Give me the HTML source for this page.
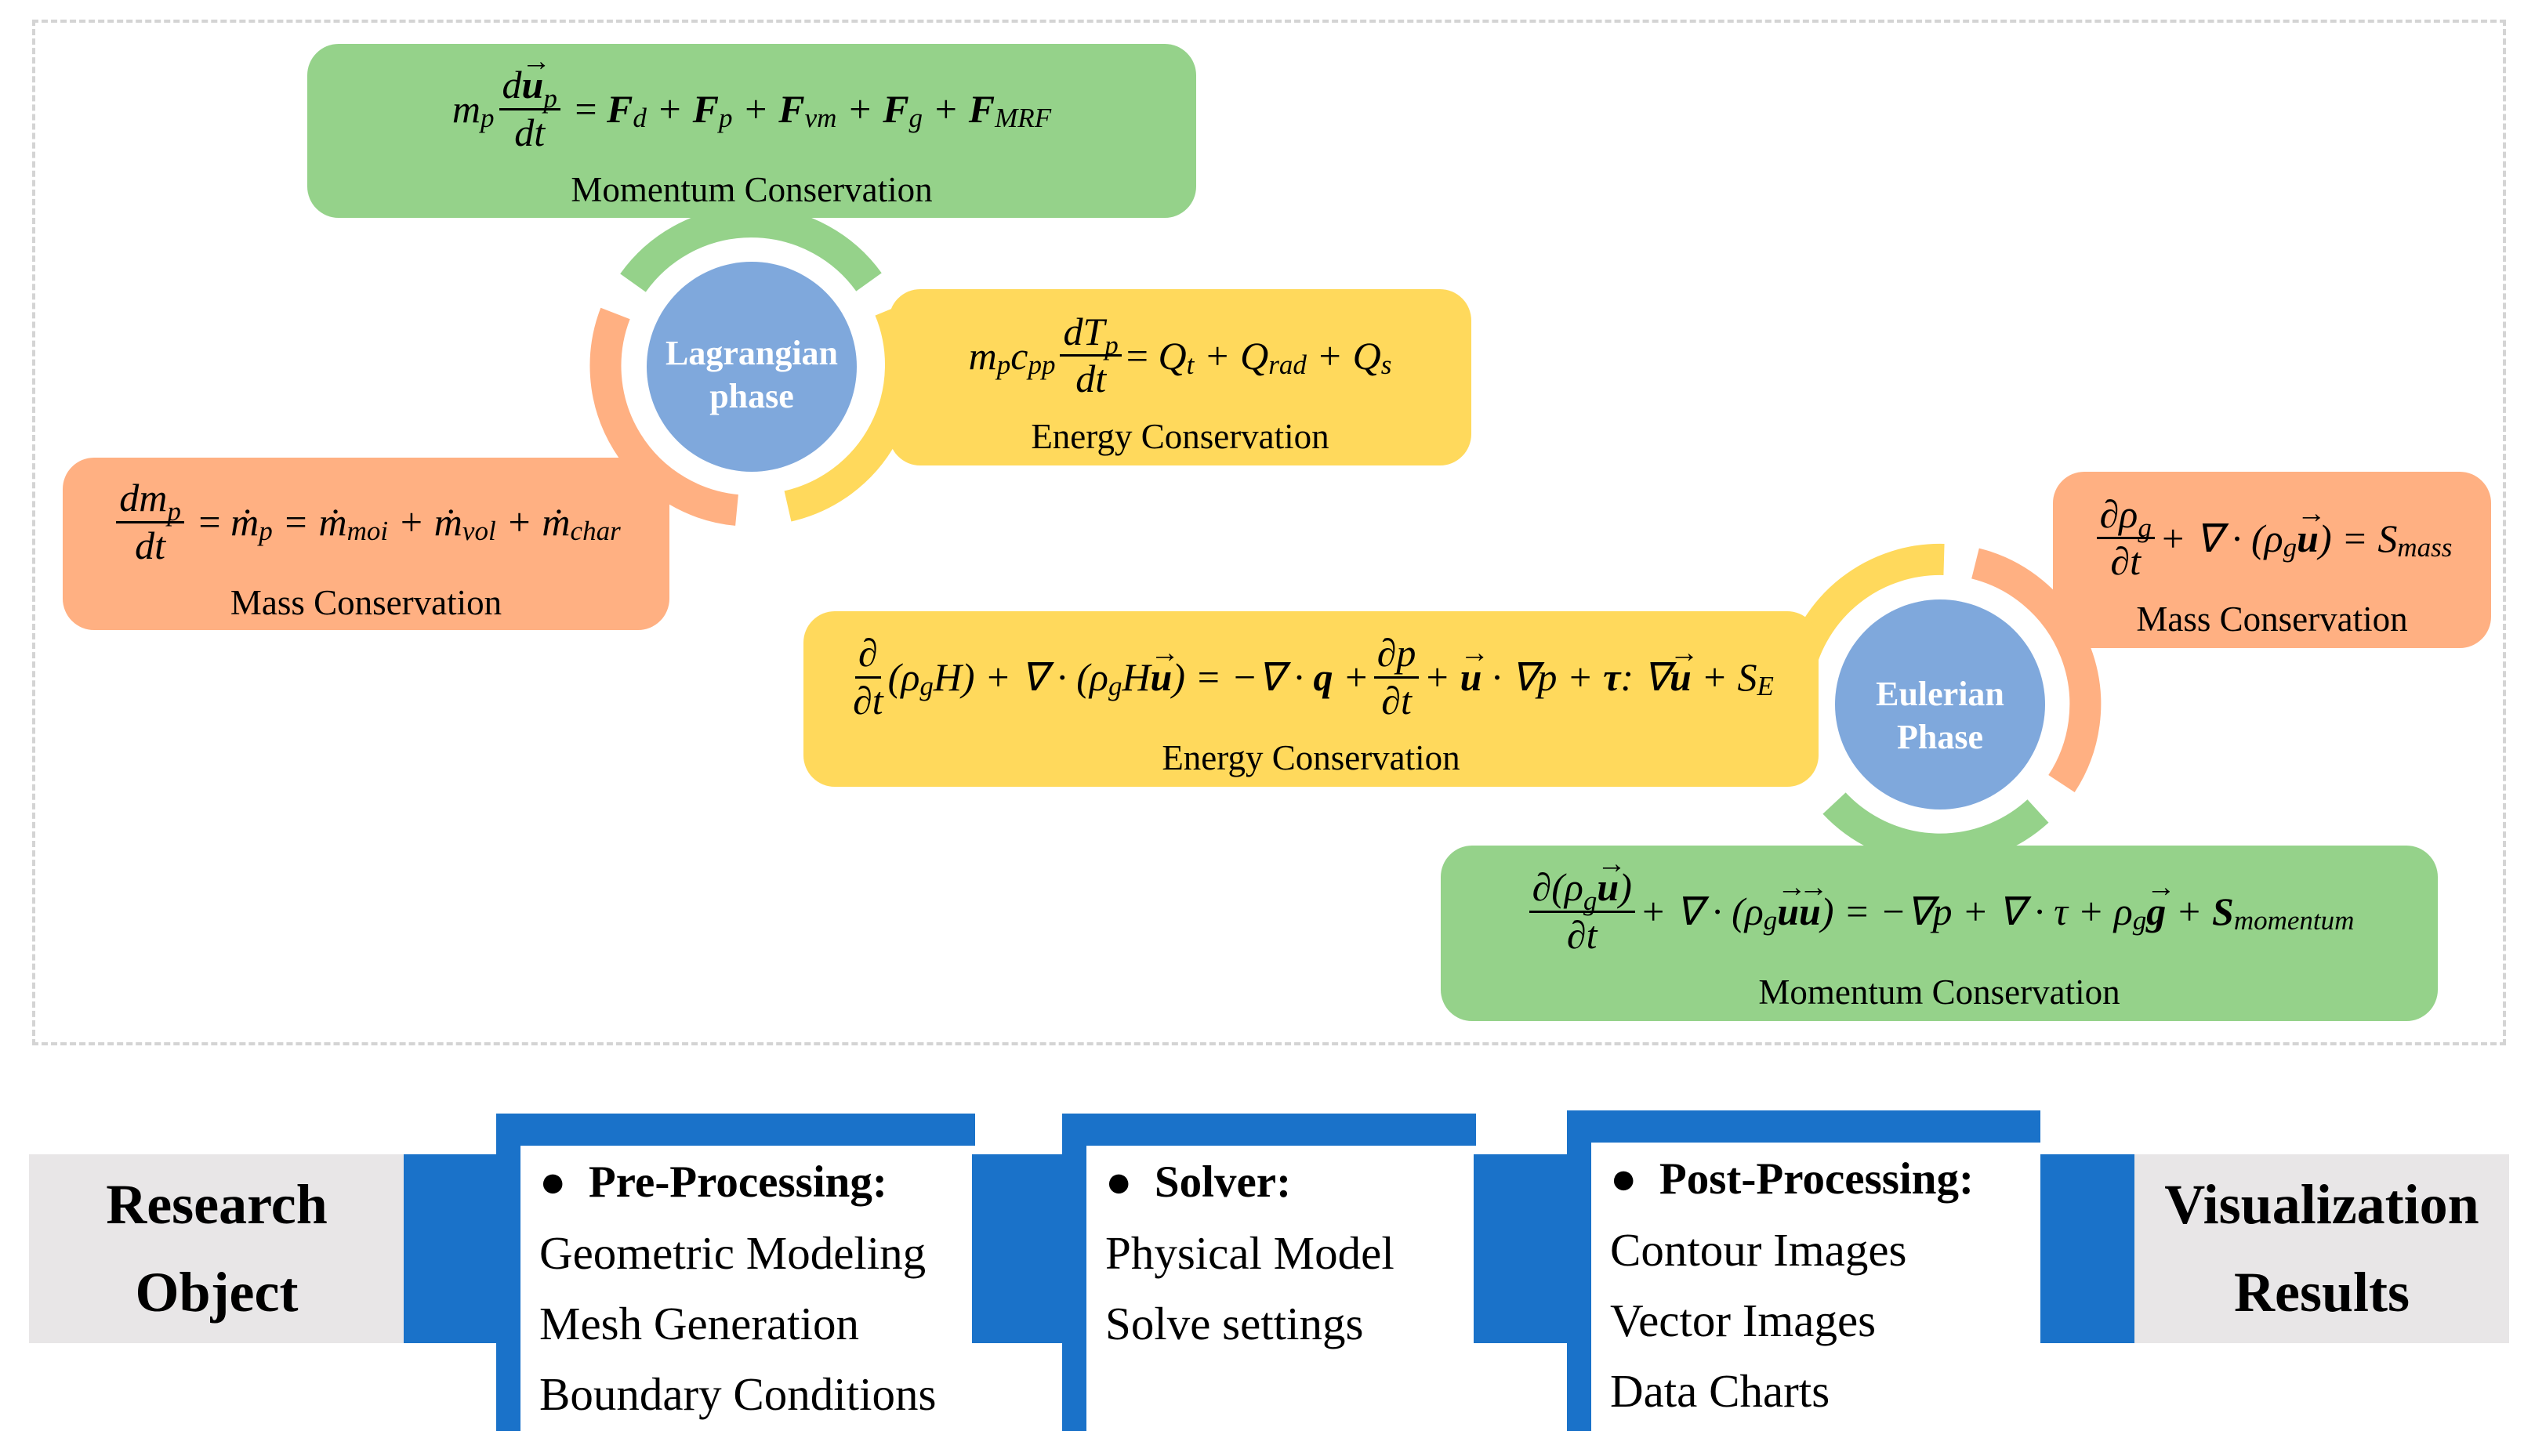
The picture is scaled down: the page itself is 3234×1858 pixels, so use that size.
<!DOCTYPE html>
<html><head><meta charset="utf-8"><style>
*{margin:0;padding:0;box-sizing:border-box}
body{width:3234px;height:1858px;background:#fff;position:relative;overflow:hidden;font-family:"Liberation Serif","Times New Roman","DejaVu Serif",serif;color:#000}
.a{position:absolute}
.box{position:absolute;border-radius:40px;display:flex;flex-direction:column;align-items:center;justify-content:center;font-family:"Liberation Serif",serif;padding-top:14px}
.eq{font-size:50px;font-style:italic;white-space:nowrap;display:flex;align-items:center;font-family:"Liberation Serif",serif}
.eq b{font-style:italic}
.lab{font-size:45px;margin-top:18px;font-family:"Liberation Serif",serif}
.fr{display:inline-flex;flex-direction:column;align-items:center;vertical-align:middle;margin:0 6px;line-height:1.15}
.fr>span:first-child{border-bottom:3px solid #000;padding:0 4px}
.r{font-style:normal}
.s{font-size:0.7em;position:relative;top:0.35em}
.v{position:relative;display:inline-block;font-weight:bold}
.v::before{content:"\2192";position:absolute;top:-0.62em;left:0;width:100%;text-align:center;font-size:0.75em;font-style:normal;font-weight:bold}
.g{background:#95d28a}.y{background:#ffd95c}.o{background:#ffb082}
.blue{background:#1a72c9;position:absolute}
.gray{background:#e8e6e7;position:absolute;display:flex;align-items:center;justify-content:center;text-align:center;font-weight:bold;font-size:72px;line-height:1.55;font-family:"Liberation Serif",serif}
.pan{position:absolute;background:#fff;font-size:59px;line-height:90px;padding-left:24px;font-family:"Liberation Serif",serif;white-space:nowrap}
.pan b{font-size:57px}
</style></head><body>
<div class="a" style="left:41px;top:25px;width:3156px;height:1309px;border:4px dashed #d4d4d4"></div>

<svg class="a" style="left:0;top:0" width="3234" height="1858">
<g fill="none" stroke-width="40">
 <path d="M 807.5 361 A 185 185 0 0 1 1108.5 360" stroke="#95d28a"/>
 <path d="M 1135 395 A 185 185 0 0 1 1005 646" stroke="#ffd95c"/>
 <path d="M 940 651 A 185 185 0 0 1 785 400" stroke="#ffb082"/>
 <path d="M 2294 860 A 185 185 0 0 1 2480 714" stroke="#ffd95c"/>
 <path d="M 2520 719 A 185 185 0 0 1 2630 1000" stroke="#ffb082"/>
 <path d="M 2600 1035 A 185 185 0 0 1 2340 1025" stroke="#95d28a"/>
</g>
<circle cx="959" cy="468" r="134" fill="#7fa8dc"/>
<circle cx="2475" cy="899" r="134" fill="#7fa8dc"/>
<g font-family="Liberation Serif, serif" font-weight="bold" font-size="44" fill="#fff" text-anchor="middle">
<text x="959" y="465">Lagrangian</text>
<text x="959" y="520">phase</text>
<text x="2475" y="900">Eulerian</text>
<text x="2475" y="955">Phase</text>
</g>
</svg>

<div class="box g" style="left:392px;top:56px;width:1134px;height:222px">
 <div class="eq">m<span class="s">p</span><span class="fr"><span>d<span class="v">u</span><span class="s">p</span></span><span>dt</span></span><span class="r">&nbsp;=&nbsp;</span><b>F</b><span class="s">d</span>&nbsp;+&nbsp;<b>F</b><span class="s">p</span>&nbsp;+&nbsp;<b>F</b><span class="s">vm</span>&nbsp;+&nbsp;<b>F</b><span class="s">g</span>&nbsp;+&nbsp;<b>F</b><span class="s">MRF</span></div>
 <div class="lab">Momentum Conservation</div>
</div>

<div class="box y" style="left:1134px;top:369px;width:743px;height:225px">
 <div class="eq">m<span class="s">p</span>c<span class="s">pp</span><span class="fr"><span>dT<span class="s">p</span></span><span>dt</span></span><span class="r">=</span>&nbsp;Q<span class="s">t</span>&nbsp;+&nbsp;Q<span class="s">rad</span>&nbsp;+&nbsp;Q<span class="s">s</span></div>
 <div class="lab">Energy Conservation</div>
</div>

<div class="box o" style="left:80px;top:584px;width:774px;height:220px">
 <div class="eq"><span class="fr"><span>dm<span class="s">p</span></span><span>dt</span></span><span class="r">&nbsp;=&nbsp;</span>ṁ<span class="s">p</span>&nbsp;=&nbsp;ṁ<span class="s">moi</span>&nbsp;+&nbsp;ṁ<span class="s">vol</span>&nbsp;+&nbsp;ṁ<span class="s">char</span></div>
 <div class="lab">Mass Conservation</div>
</div>

<div class="box o" style="left:2619px;top:602px;width:559px;height:225px">
 <div class="eq"><span class="fr"><span>∂ρ<span class="s">g</span></span><span>∂t</span></span>+&nbsp;∇&nbsp;·&nbsp;(ρ<span class="s">g</span><span class="v">u</span>)&nbsp;=&nbsp;S<span class="s">mass</span></div>
 <div class="lab">Mass Conservation</div>
</div>

<div class="box y" style="left:1025px;top:780px;width:1295px;height:224px">
 <div class="eq"><span class="fr"><span>∂</span><span>∂t</span></span>(ρ<span class="s">g</span>H)&nbsp;+&nbsp;∇&nbsp;·&nbsp;(ρ<span class="s">g</span>H<span class="v">u</span>)&nbsp;=&nbsp;−∇&nbsp;·&nbsp;<b>q</b>&nbsp;+<span class="fr"><span>∂p</span><span>∂t</span></span>+&nbsp;<span class="v">u</span>&nbsp;·&nbsp;∇p&nbsp;+&nbsp;<b>τ</b>:&nbsp;∇<span class="v">u</span>&nbsp;+&nbsp;S<span class="s">E</span></div>
 <div class="lab">Energy Conservation</div>
</div>

<div class="box g" style="left:1838px;top:1079px;width:1272px;height:224px">
 <div class="eq"><span class="fr"><span>∂(ρ<span class="s">g</span><span class="v">u</span>)</span><span>∂t</span></span>+&nbsp;∇&nbsp;·&nbsp;(ρ<span class="s">g</span><span class="v">u</span><span class="v">u</span>)&nbsp;=&nbsp;−∇p&nbsp;+&nbsp;∇&nbsp;·&nbsp;τ&nbsp;+&nbsp;ρ<span class="s">g</span><span class="v">g</span>&nbsp;+&nbsp;<b>S</b><span class="s">momentum</span></div>
 <div class="lab">Momentum Conservation</div>
</div>

<!-- bottom flow -->
<div class="gray" style="left:37px;top:1473px;width:479px;height:241px">Research<br>Object</div>
<div class="blue" style="left:515px;top:1473px;width:120px;height:241px"></div>
<div class="blue" style="left:633px;top:1421px;width:611px;height:405px"></div>
<div class="pan" style="left:664px;top:1462px;width:580px;height:364px"><b>●&nbsp;&nbsp;Pre-Processing:</b><br>Geometric Modeling<br>Mesh Generation<br>Boundary Conditions</div>
<div class="blue" style="left:1240px;top:1473px;width:120px;height:241px"></div>
<div class="blue" style="left:1355px;top:1421px;width:528px;height:405px"></div>
<div class="pan" style="left:1386px;top:1462px;width:497px;height:364px"><b>●&nbsp;&nbsp;Solver:</b><br>Physical Model<br>Solve settings</div>
<div class="blue" style="left:1880px;top:1473px;width:120px;height:241px"></div>
<div class="blue" style="left:1999px;top:1417px;width:604px;height:409px"></div>
<div class="pan" style="left:2030px;top:1458px;width:573px;height:368px"><b>●&nbsp;&nbsp;Post-Processing:</b><br>Contour Images<br>Vector Images<br>Data Charts</div>
<div class="blue" style="left:2603px;top:1473px;width:120px;height:241px"></div>
<div class="gray" style="left:2723px;top:1473px;width:478px;height:241px">Visualization<br>Results</div>
</body></html>
